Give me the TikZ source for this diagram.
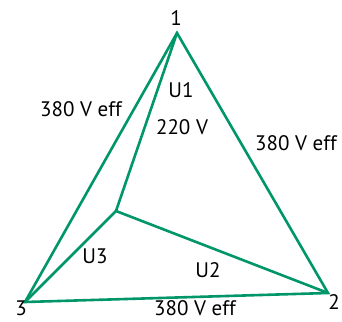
\documentclass[tikz,border=0pt]{standalone}
\usepackage{fontspec}
\setmainfont{PT Sans}
\definecolor{lg}{RGB}{0,150,105}
\begin{document}
\begin{tikzpicture}[x=1pt,y=-1pt,
  wire/.style={draw=lg,line width=2.6pt,line join=miter},
  lbl/.style={font=\fontsize{21}{25}\selectfont,inner sep=0pt,text=black}]
\useasboundingbox (0,0) rectangle (342,321);
\coordinate (v1) at (177,33);
\coordinate (v2) at (328,293);
\coordinate (v3) at (25,302);
\coordinate (c) at (116,211);
\draw[wire] (v1) -- (v2) -- (v3) -- cycle;
\draw[wire] (v1) -- (c) -- (v2);
\draw[wire] (c) -- (v3);
\node[lbl] (n1) at (176,18) {1};
\node[lbl] (n2) at (334,302) {2};
\node[lbl] (n3) at (21,308) {3};
\node[lbl] (l12) at (296,143) {380 V eff};
\node[lbl] (l13) at (81,109) {380 V eff};
\node[lbl] (l23) at (195,308) {380 V eff};
\node[lbl] (u1) at (181,90) {U1};
\node[lbl] (v) at (182,127) {220 V};
\node[lbl] (u3) at (95,256) {U3};
\node[lbl] (u2) at (208,270) {U2};
\end{tikzpicture}
\end{document}
